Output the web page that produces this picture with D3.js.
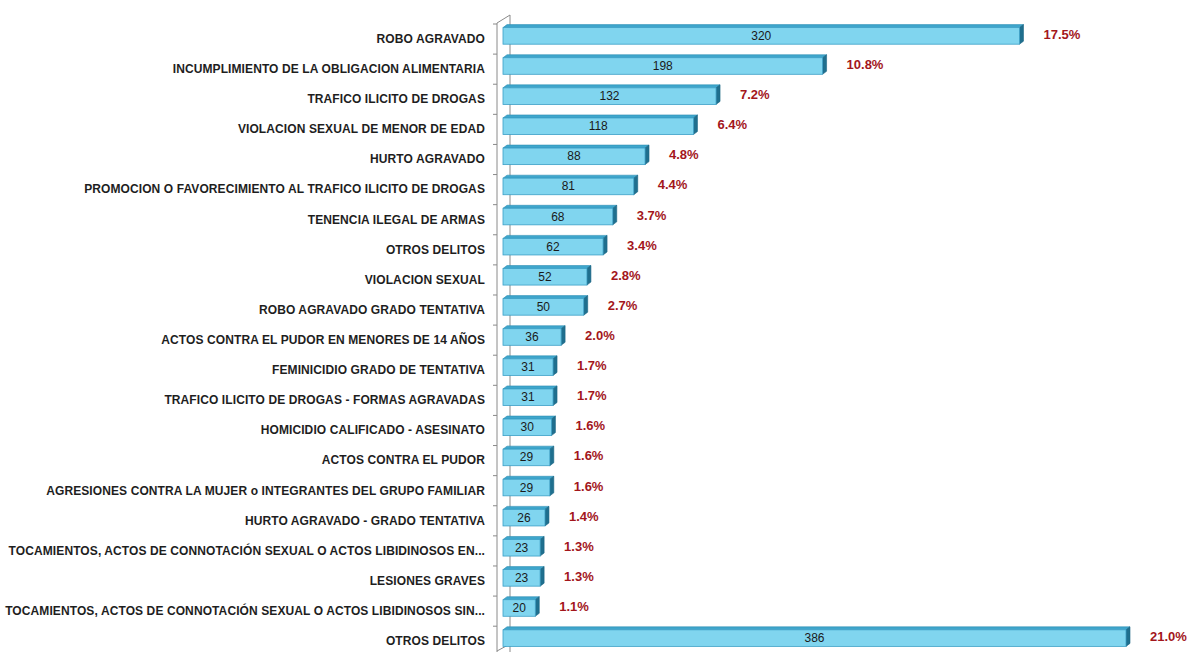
<!DOCTYPE html>
<html>
<head>
<meta charset="utf-8">
<script src="https://cdn.jsdelivr.net/npm/d3@7"></script>
<style>
  body { margin: 0; background: #fff; }
  .cat { font-family: "Liberation Sans", Arial, sans-serif; font-size: 12px; font-weight: bold; fill: #1e1e1e; letter-spacing: 0.1px; }
  .val { font-family: "Liberation Sans", Arial, sans-serif; font-size: 12px; fill: #1a1a1a; }
  .pct { font-family: "Liberation Sans", Arial, sans-serif; font-size: 13px; font-weight: bold; fill: #a3161c; }
</style>
</head>
<body>
<script>
var w = 1202;
var h = 652;

// categories, counts and percentage labels
const categories = [
    "ROBO AGRAVADO",
    "INCUMPLIMIENTO DE LA OBLIGACION ALIMENTARIA",
    "TRAFICO ILICITO DE DROGAS",
    "VIOLACION SEXUAL DE MENOR DE EDAD",
    "HURTO AGRAVADO",
    "PROMOCION O FAVORECIMIENTO AL TRAFICO ILICITO DE DROGAS",
    "TENENCIA ILEGAL DE ARMAS",
    "OTROS DELITOS",
    "VIOLACION SEXUAL",
    "ROBO AGRAVADO GRADO TENTATIVA",
    "ACTOS CONTRA EL PUDOR EN MENORES DE 14 AÑOS",
    "FEMINICIDIO GRADO DE TENTATIVA",
    "TRAFICO ILICITO DE DROGAS - FORMAS AGRAVADAS",
    "HOMICIDIO CALIFICADO - ASESINATO",
    "ACTOS CONTRA EL PUDOR",
    "AGRESIONES CONTRA LA MUJER o INTEGRANTES DEL GRUPO FAMILIAR",
    "HURTO AGRAVADO - GRADO TENTATIVA",
    "TOCAMIENTOS, ACTOS DE CONNOTACIÓN SEXUAL O ACTOS LIBIDINOSOS EN...",
    "LESIONES GRAVES",
    "TOCAMIENTOS, ACTOS DE CONNOTACIÓN SEXUAL O ACTOS LIBIDINOSOS SIN...",
    "OTROS DELITOS"
];
const counts = [320, 198, 132, 118, 88, 81, 68, 62, 52, 50, 36, 31, 31, 30, 29, 29, 26, 23, 23, 20, 386];
const percents = ["17.5%", "10.8%", "7.2%", "6.4%", "4.8%", "4.4%", "3.7%", "3.4%", "2.8%", "2.7%", "2.0%",
                  "1.7%", "1.7%", "1.6%", "1.6%", "1.6%", "1.4%", "1.3%", "1.3%", "1.1%", "21.0%"];

const dataset = categories.map((c, i) => ({ i: i, name: c, count: counts[i], pct: percents[i] }));

const depth = 4;     // 3d offset of the bars
const rise = 3;
const wallX = 497;   // front line of the category axis
const wallDepth = 13;

// scales
const xScale = d3.scaleLinear()
            .domain([0, 386])
            .range([503, 1126]);

const yScale = d3.scaleBand()
            .domain(d3.range(dataset.length))
            .range([21, 653])
            .paddingInner(0.45)
            .paddingOuter(0.22);

const svg = d3.select("body")
            .append("svg")
            .attr("width", w)
            .attr("height", h);

// axis wall: front line, back line and the slanted ends
svg.append("path")
    .attr("d", `M${wallX},${h} L${wallX},23 L${wallX + wallDepth},15 L${wallX + wallDepth},${h}`)
    .attr("fill", "none")
    .attr("stroke", "#8a8a8a")
    .attr("stroke-width", 1);

svg.append("line")
    .attr("x1", wallX).attr("y1", 651)
    .attr("x2", wallX + wallDepth).attr("y2", 644)
    .attr("stroke", "#8a8a8a");

// tick marks between the categories
const step = yScale.step();
const ticks = d3.range(dataset.length + 1).map(k => 21 + k * step + 3);
svg.selectAll(".tick")
    .data(ticks.filter(t => t < h))
    .enter()
    .append("line")
    .attr("x1", wallX - 4)
    .attr("x2", wallX)
    .attr("y1", d => d)
    .attr("y2", d => d)
    .attr("stroke", "#8a8a8a");

// category labels
svg.selectAll(".cat")
    .data(dataset)
    .enter()
    .append("text")
    .attr("class", "cat")
    .attr("x", 485)
    .attr("y", d => yScale(d.i) + yScale.bandwidth() / 2 + 7)
    .attr("text-anchor", "end")
    .text(d => d.name);

const bars = svg.selectAll(".bar")
    .data(dataset)
    .enter()
    .append("g")
    .attr("class", "bar");

// top face
bars.append("path")
    .attr("d", d => {
        const x0 = xScale(0), x1 = xScale(d.count), y0 = yScale(d.i);
        return `M${x0},${y0} L${x0 + depth},${y0 - rise} L${x1 + depth},${y0 - rise} L${x1},${y0} Z`;
    })
    .attr("fill", "#3ea6cc")
    .attr("stroke", "#2f8fb4")
    .attr("stroke-width", 0.6);

// side face
bars.append("path")
    .attr("d", d => {
        const x1 = xScale(d.count), y0 = yScale(d.i), y1 = y0 + yScale.bandwidth();
        return `M${x1},${y0} L${x1 + depth},${y0 - rise} L${x1 + depth},${y1 - rise} L${x1},${y1} Z`;
    })
    .attr("fill", "#1f6f8e")
    .attr("stroke", "#1b6483")
    .attr("stroke-width", 0.6);

// front face
bars.append("rect")
    .attr("x", xScale(0))
    .attr("y", d => yScale(d.i))
    .attr("width", d => xScale(d.count) - xScale(0))
    .attr("height", yScale.bandwidth())
    .attr("fill", "#80d5ef")
    .attr("stroke", "#3b9fc6")
    .attr("stroke-width", 0.8);

// counts in the middle of the bars
bars.append("text")
    .attr("class", "val")
    .attr("x", d => (xScale(0) + xScale(d.count)) / 2)
    .attr("y", d => yScale(d.i) + yScale.bandwidth() / 2 + 4)
    .attr("text-anchor", "middle")
    .text(d => d.count);

// percentages after the bars
bars.append("text")
    .attr("class", "pct")
    .attr("x", d => xScale(d.count) + depth + 20)
    .attr("y", d => yScale(d.i) + yScale.bandwidth() / 2 + 3)
    .text(d => d.pct);
</script>
</body>
</html>
